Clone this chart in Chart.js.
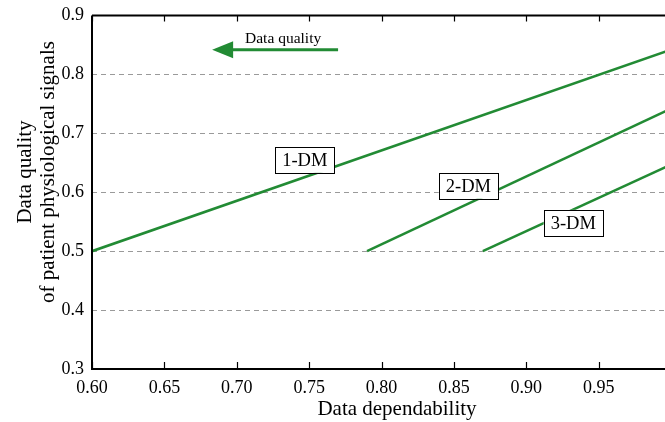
<!DOCTYPE html>
<html>
<head>
<meta charset="utf-8">
<script src="https://cdn.jsdelivr.net/npm/chart.js@4"></script>
<style>
  html, body { margin: 0; padding: 0; background: #fff; overflow: hidden; }
  #wrap { width: 680px; height: 422px; }
</style>
</head>
<body>
<div id="wrap"><canvas id="dmChart"></canvas></div>
<script>
// data
const seriesNames = ['1-DM', '2-DM', '3-DM'];
const dm1X = [0.60, 1.00];
const dm1Y = [0.50, 0.842];
const dm2X = [0.79, 1.00];
const dm2Y = [0.50, 0.742];
const dm3X = [0.87, 1.00];
const dm3Y = [0.50, 0.647];

// where the name boxes sit (data coords)
const boxX = [0.747, 0.860, 0.9325];
const boxY = [0.655, 0.611, 0.548];

// "Data quality" arrow (data coords)
const arrowText = 'Data quality';
const arrowFrom = [0.770, 0.842];
const arrowTo = [0.683, 0.842];

const xTitle = 'Data dependability';
const yTitle = ['Data quality', 'of patient physiological signals'];

const green = '#228b34';
const serif = '"Liberation Serif", "DejaVu Serif", serif';

function pts(xs, ys) {
    return xs.map((x, i) => ({x: x, y: ys[i]}));
}

const framePlugin = {
    id: 'frame',
    afterDraw(chart) {
        const ctx = chart.ctx;
        const xs = chart.scales.x, ys = chart.scales.y;
        const a = chart.chartArea;
        ctx.save();

        // axes frame (left, top, bottom)
        ctx.strokeStyle = '#000';
        ctx.lineWidth = 2;
        ctx.beginPath();
        ctx.moveTo(a.left, a.top);
        ctx.lineTo(a.right + 10, a.top);
        ctx.moveTo(a.left, a.top);
        ctx.lineTo(a.left, a.bottom);
        ctx.lineTo(a.right + 10, a.bottom);
        ctx.stroke();

        // inward ticks top and bottom
        ctx.lineWidth = 1.2;
        xs.ticks.forEach(t => {
            const px = Math.round(xs.getPixelForValue(t.value)) + 0.5;
            ctx.beginPath();
            ctx.moveTo(px, a.top);
            ctx.lineTo(px, a.top + 6);
            ctx.moveTo(px, a.bottom);
            ctx.lineTo(px, a.bottom - 7);
            ctx.stroke();
        });

        // arrow
        const ax1 = xs.getPixelForValue(arrowFrom[0]);
        const ax2 = xs.getPixelForValue(arrowTo[0]);
        const ay = ys.getPixelForValue(arrowFrom[1]);
        ctx.strokeStyle = green;
        ctx.fillStyle = green;
        ctx.lineWidth = 3;
        ctx.beginPath();
        ctx.moveTo(ax1, ay);
        ctx.lineTo(ax2 + 18, ay);
        ctx.stroke();
        ctx.beginPath();
        ctx.moveTo(ax2, ay);
        ctx.lineTo(ax2 + 21, ay - 8.5);
        ctx.lineTo(ax2 + 21, ay + 8.5);
        ctx.closePath();
        ctx.fill();

        ctx.fillStyle = '#000';
        ctx.font = '15.5px ' + serif;
        ctx.textAlign = 'center';
        ctx.textBaseline = 'middle';
        ctx.fillText(arrowText, (ax1 + ax2) / 2 + 8, ay - 11);

        // name boxes
        ctx.font = '18.5px ' + serif;
        seriesNames.forEach((name, i) => {
            const cx = xs.getPixelForValue(boxX[i]);
            const cy = ys.getPixelForValue(boxY[i]);
            const w = ctx.measureText(name).width + 14;
            const h = 26;
            ctx.fillStyle = '#fff';
            ctx.fillRect(cx - w / 2, cy - h / 2, w, h);
            ctx.strokeStyle = '#000';
            ctx.lineWidth = 1;
            ctx.strokeRect(Math.round(cx - w / 2) + 0.5, Math.round(cy - h / 2) + 0.5, Math.round(w), h);
            ctx.fillStyle = '#000';
            ctx.fillText(name, cx, cy + 1);
        });

        // axis titles (the original figure was cropped, so they sit off-centre)
        ctx.fillStyle = '#000';
        ctx.font = '21px ' + serif;
        ctx.textAlign = 'center';
        ctx.textBaseline = 'alphabetic';
        ctx.fillText(xTitle, 397, 415);

        ctx.translate(0, 172);
        ctx.rotate(-Math.PI / 2);
        ctx.fillText(yTitle[0], 0, 31);
        ctx.fillText(yTitle[1], 0, 54);

        ctx.restore();
    }
};

const lineStyle = {
    showLine: true,
    borderColor: green,
    borderWidth: 2.6,
    pointRadius: 0,
    fill: false
};

new Chart(document.getElementById('dmChart'), {
    type: 'scatter',
    data: {
        datasets: [
            {label: seriesNames[0], data: pts(dm1X, dm1Y), ...lineStyle},
            {label: seriesNames[1], data: pts(dm2X, dm2Y), ...lineStyle},
            {label: seriesNames[2], data: pts(dm3X, dm3Y), ...lineStyle}
        ]
    },
    options: {
        responsive: true,
        maintainAspectRatio: false,
        animation: false,
        layout: {padding: {top: 15.5, right: 9, left: 0, bottom: 0}},
        plugins: {legend: {display: false}, tooltip: {enabled: false}},
        scales: {
            x: {
                type: 'linear',
                min: 0.6,
                max: 1.0,
                afterFit(scale) {
                    scale.height = 53;
                    scale.paddingLeft = 0;
                    scale.paddingRight = 0;
                },
                grid: {display: false, drawTicks: false},
                border: {display: false},
                ticks: {
                    stepSize: 0.05,
                    autoSkip: false,
                    maxRotation: 0,
                    padding: 8,
                    color: '#000',
                    font: {family: serif, size: 18},
                    callback: v => (v > 0.999 ? '' : v.toFixed(2))
                }
            },
            y: {
                type: 'linear',
                min: 0.3,
                max: 0.9,
                afterFit(scale) {
                    scale.width = 92;
                    scale.paddingTop = 0;
                    scale.paddingBottom = 0;
                },
                grid: {
                    drawTicks: false,
                    lineWidth: 1,
                    color: c => (c.tick && (Math.abs(c.tick.value - 0.3) < 1e-6 || Math.abs(c.tick.value - 0.9) < 1e-6)) ? 'rgba(0,0,0,0)' : '#9a9a9a'
                },
                border: {display: false, dash: [5, 4]},
                ticks: {
                    stepSize: 0.1,
                    padding: 8,
                    color: '#000',
                    font: {family: serif, size: 18},
                    callback: v => v.toFixed(1)
                }
            }
        }
    },
    plugins: [framePlugin]
});
</script>
</body>
</html>
